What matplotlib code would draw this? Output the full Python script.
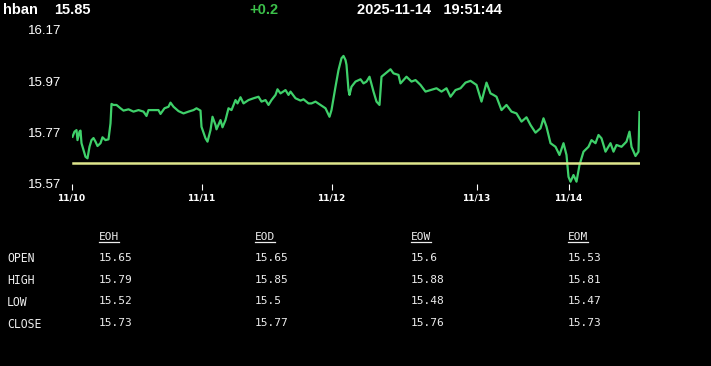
import matplotlib
matplotlib.use("Agg")
import matplotlib.pyplot as plt
from matplotlib.lines import Line2D

# quote header
symbol = "hban"
last_price = "15.85"
change = "+0.2"
stamp = "2025-11-14   19:51:44"

# intraday trace (bar index, price)
bars = [1, 3, 5, 6, 8, 9, 10, 12, 14, 16, 18, 20, 22, 24, 26, 29, 31, 34, 37, 39,
        40, 42, 45, 49, 52, 57, 62, 67, 72, 75, 77, 87, 89, 93, 97, 99, 102, 107, 112, 117,
        122, 125, 129, 130, 134, 136, 139, 141, 144, 145, 149, 151, 154, 157, 160, 164, 166, 169, 172, 177,
        182, 187, 190, 194, 197, 200, 204, 206, 209, 214, 217, 219, 224, 229, 232, 237, 240, 244, 249, 254,
        258, 260, 264, 267, 270, 272, 274, 275, 277, 278, 280, 284, 289, 292, 295, 298, 302, 305, 308, 310,
        314, 319, 322, 327, 329, 335, 340, 344, 349, 354, 359, 365, 370, 375, 379, 384, 389, 394, 399, 405,
        410, 415, 419, 422, 425, 430, 435, 440, 445, 450, 455, 459, 464, 469, 472, 475, 479, 484, 488, 492,
        495, 497, 499, 502, 505, 508, 512, 517, 520, 524, 527, 530, 534, 539, 542, 545, 550, 555, 558, 560,
        564, 567, 568]
prices = [15.754, 15.774, 15.780, 15.741, 15.774, 15.778, 15.729, 15.702, 15.676, 15.670,
          15.715, 15.741, 15.749, 15.735, 15.718, 15.729, 15.752, 15.741, 15.744, 15.806,
          15.882, 15.878, 15.878, 15.865, 15.856, 15.861, 15.852, 15.858, 15.852, 15.835,
          15.858, 15.858, 15.843, 15.865, 15.871, 15.887, 15.871, 15.854, 15.845, 15.852,
          15.858, 15.865, 15.856, 15.793, 15.748, 15.735, 15.780, 15.832, 15.800, 15.783,
          15.819, 15.791, 15.819, 15.865, 15.858, 15.897, 15.884, 15.908, 15.884, 15.897,
          15.904, 15.910, 15.891, 15.897, 15.878, 15.897, 15.917, 15.939, 15.923, 15.936,
          15.917, 15.930, 15.904, 15.895, 15.900, 15.884, 15.884, 15.891, 15.878, 15.865,
          15.832, 15.858, 15.949, 16.014, 16.060, 16.069, 16.053, 16.034, 15.936, 15.917,
          15.949, 15.969, 15.978, 15.962, 15.969, 15.988, 15.930, 15.891, 15.878, 15.988,
          16.001, 16.017, 16.001, 15.995, 15.962, 15.988, 15.969, 15.975, 15.956, 15.930,
          15.936, 15.943, 15.930, 15.943, 15.910, 15.936, 15.943, 15.965, 15.972, 15.956,
          15.891, 15.965, 15.923, 15.917, 15.910, 15.858, 15.878, 15.852, 15.845, 15.813,
          15.830, 15.800, 15.770, 15.787, 15.826, 15.793, 15.729, 15.715, 15.683, 15.729,
          15.683, 15.598, 15.579, 15.605, 15.579, 15.644, 15.696, 15.715, 15.741, 15.729,
          15.761, 15.748, 15.696, 15.729, 15.696, 15.722, 15.715, 15.735, 15.774, 15.715,
          15.679, 15.696, 15.850]
prev_close = 15.65

day_ticks = [0, 130, 260, 405, 497]
day_labels = ["11/10", "11/11", "11/12", "11/13", "11/14"]
y_ticks = [15.57, 15.77, 15.97, 16.17]

# summary table
periods = ["EOH", "EOD", "EOW", "EOM"]
row_names = ["OPEN", "HIGH", "LOW", "CLOSE"]
opens = ["15.65", "15.65", "15.6", "15.53"]
highs = ["15.79", "15.85", "15.88", "15.81"]
lows = ["15.52", "15.5", "15.48", "15.47"]
closes = ["15.73", "15.77", "15.76", "15.73"]

W, H = 711, 366
fig = plt.figure(figsize=(W / 100, H / 100), dpi=100, facecolor="black")
ax = fig.add_axes([71.5 / W, 1 - 184 / H, 568.5 / W, 154 / H])
ax.set_facecolor("black")

ax.plot(bars, prices, color="#3fd06a", lw=1.6, solid_joinstyle="round")
ax.plot([1, 568], [prev_close, prev_close], color="#dfe68c", lw=1.8)

ax.set_xlim(0, 568.5)
ax.set_ylim(15.57, 16.17)
ax.set_yticks(y_ticks)
ax.set_yticklabels(["%.2f" % v for v in y_ticks], fontsize=9.5, color="white",
                   family="Liberation Sans")
ax.tick_params(axis="y", length=0, pad=7.5)
ax.set_xticks(day_ticks)
ax.set_xticklabels(day_labels, fontsize=6.5, color="white", family="DejaVu Sans", weight="bold")
ax.tick_params(axis="x", length=4, color="white", pad=2.5, direction="out")
for s in ax.spines.values():
    s.set_visible(False)

# header line
hdr = dict(color="white", fontsize=10.5, weight="bold", family="Liberation Sans", va="center")
fig.text(3 / W, 1 - 10 / H, symbol, **hdr)
fig.text(54 / W, 1 - 10 / H, last_price, **hdr)
fig.text(249 / W, 1 - 10 / H, change, **dict(hdr, color="#3cc04a"))
fig.text(357 / W, 1 - 10 / H, stamp, **hdr)

# table
mono = dict(color="#eeeeee", fontsize=8, family="DejaVu Sans Mono", va="center")
col_x = [99, 255, 411, 568]
row_y = [259, 281, 302, 324]
cols = [opens, highs, lows, closes]
heads = []
for cx, name in zip(col_x, periods):
    heads.append(fig.text(cx / W, 1 - 237 / H, name, **mono))
for ry, name, vals in zip(row_y, row_names, cols):
    fig.text(7 / W, 1 - ry / H, name, **dict(mono, fontsize=8.3))
    for cx, v in zip(col_x, vals):
        fig.text(cx / W, 1 - (ry - 1) / H, v, **mono)

fig.canvas.draw()
r = fig.canvas.get_renderer()
for t in heads:
    bb = t.get_window_extent(r)
    yy = (H - 242) / H
    fig.add_artist(Line2D([bb.x0 / W, bb.x1 / W], [yy, yy], color="#eeeeee", lw=0.9))

fig.savefig("out.png", dpi=100, facecolor="black")
